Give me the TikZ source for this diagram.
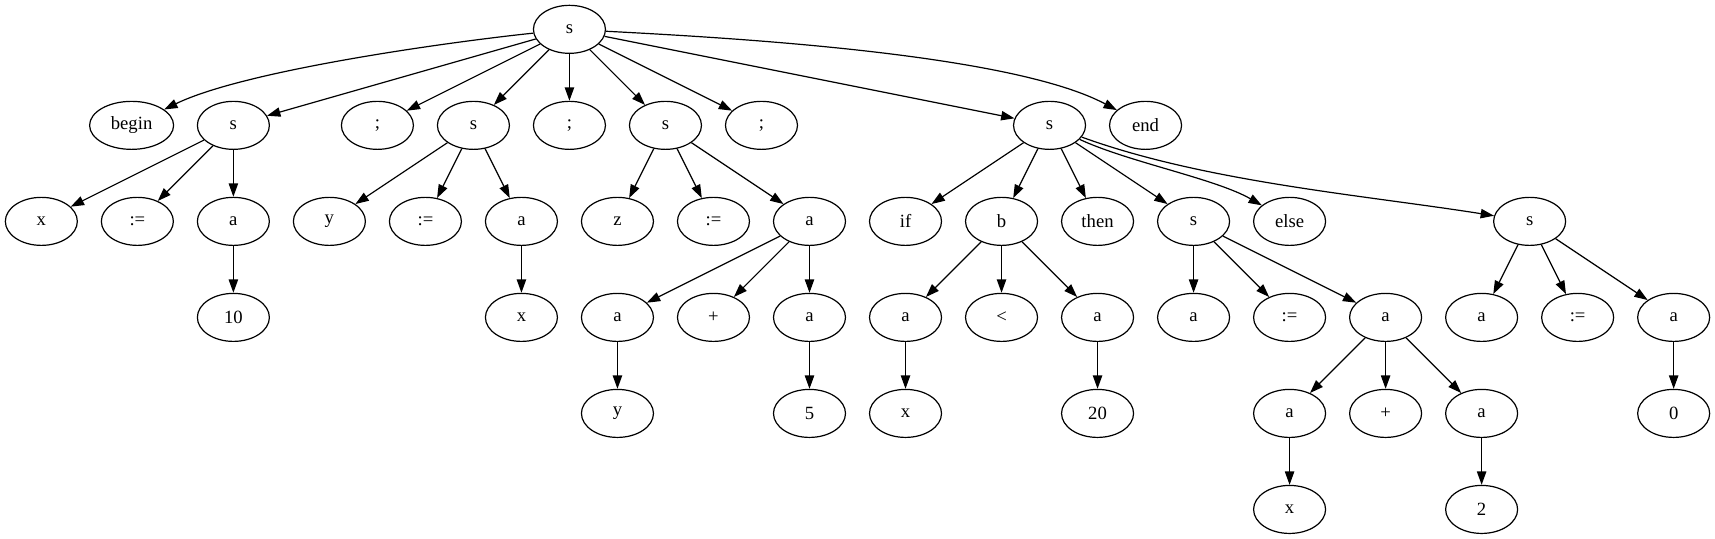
\documentclass[tikz,border=0pt]{standalone}
\usepackage{fontspec}
\setmainfont{Liberation Serif}
\usetikzlibrary{arrows.meta,shapes.geometric}
\begin{document}
\begin{tikzpicture}[x=72pt,y=-72pt,>={Triangle[length=10pt,width=7pt]},line width=0.9pt,
  every node/.style={font=\fontsize{14}{16}\selectfont},
  sym/.style={draw,ellipse,minimum width=54pt,minimum height=36pt,inner sep=0pt}]
  \useasboundingbox (-31pt,22pt) rectangle (1255pt,-382pt);
  \node[sym] (s0) at (5.5,0) {s};
  \node[sym,minimum width=63pt] (bgn) at (0.94,1) {begin};
  \node[sym] (s1) at (2,1) {s};
  \node[sym] (sc1) at (3.5,1) {;};
  \node[sym] (s2) at (4.5,1) {s};
  \node[sym] (sc2) at (5.5,1) {;};
  \node[sym] (s3) at (6.5,1) {s};
  \node[sym] (sc3) at (7.5,1) {;};
  \node[sym] (s4) at (10.5,1) {s};
  \node[sym] (nd) at (11.5,1) {end};
  \node[sym] (x1) at (0,2) {x};
  \node[sym] (as1) at (1,2) {:=};
  \node[sym] (a1) at (2,2) {a};
  \node[sym] (y2) at (3,2) {y};
  \node[sym] (as2) at (4,2) {:=};
  \node[sym] (a2) at (5,2) {a};
  \node[sym] (z3) at (6,2) {z};
  \node[sym] (as3) at (7,2) {:=};
  \node[sym] (a3) at (8,2) {a};
  \node[sym] (if4) at (9,2) {if};
  \node[sym] (b4) at (10,2) {b};
  \node[sym] (then4) at (11,2) {then};
  \node[sym] (s5) at (12,2) {s};
  \node[sym] (else4) at (13,2) {else};
  \node[sym] (s6) at (15.5,2) {s};
  \node[sym] (n10) at (2,3) {10};
  \node[sym] (x2) at (5,3) {x};
  \node[sym] (a31) at (6,3) {a};
  \node[sym] (p3) at (7,3) {+};
  \node[sym] (a32) at (8,3) {a};
  \node[sym] (a41) at (9,3) {a};
  \node[sym] (lt4) at (10,3) {<};
  \node[sym] (a42) at (11,3) {a};
  \node[sym] (a51) at (12,3) {a};
  \node[sym] (as5) at (13,3) {:=};
  \node[sym] (a52) at (14,3) {a};
  \node[sym] (a61) at (15,3) {a};
  \node[sym] (as6) at (16,3) {:=};
  \node[sym] (a62) at (17,3) {a};
  \node[sym] (y3) at (6,4) {y};
  \node[sym] (n5) at (8,4) {5};
  \node[sym] (x4) at (9,4) {x};
  \node[sym] (n20) at (11,4) {20};
  \node[sym] (a53) at (13,4) {a};
  \node[sym] (p5) at (14,4) {+};
  \node[sym] (a54) at (15,4) {a};
  \node[sym] (n0) at (17,4) {0};
  \node[sym] (x5) at (13,5) {x};
  \node[sym] (n2) at (15,5) {2};
  \draw[->] (s0) to[out=186,in=26,looseness=0.6] (bgn);
  \draw[->] (s0) to[out=-3,in=152,looseness=0.6] (nd);
  \draw[->] (s0) edge (s1) edge (sc1) edge (s2) edge (sc2) edge (s3) edge (sc3) edge (s4);
  \draw[->] (s1) edge (x1) edge (as1) edge (a1);
  \draw[->] (a1) -- (n10);
  \draw[->] (s2) edge (y2) edge (as2) edge (a2);
  \draw[->] (a2) -- (x2);
  \draw[->] (s3) edge (z3) edge (as3) edge (a3);
  \draw[->] (a3) edge (a31) edge (p3) edge (a32);
  \draw[->] (a31) -- (y3);
  \draw[->] (a32) -- (n5);
  \draw[->] (s4) edge (if4) edge (b4) edge (then4) edge (s5);
  \draw[->] (s4) to[out=-25,in=150,looseness=0.7] (else4);
  \draw[->] (s4) to[out=-20,in=171,looseness=0.8] (s6);
  \draw[->] (b4) edge (a41) edge (lt4) edge (a42);
  \draw[->] (a41) -- (x4);
  \draw[->] (a42) -- (n20);
  \draw[->] (s5) edge (a51) edge (as5) edge (a52);
  \draw[->] (a52) edge (a53) edge (p5) edge (a54);
  \draw[->] (a53) -- (x5);
  \draw[->] (a54) -- (n2);
  \draw[->] (s6) edge (a61) edge (as6) edge (a62);
  \draw[->] (a62) -- (n0);
\end{tikzpicture}
\end{document}
